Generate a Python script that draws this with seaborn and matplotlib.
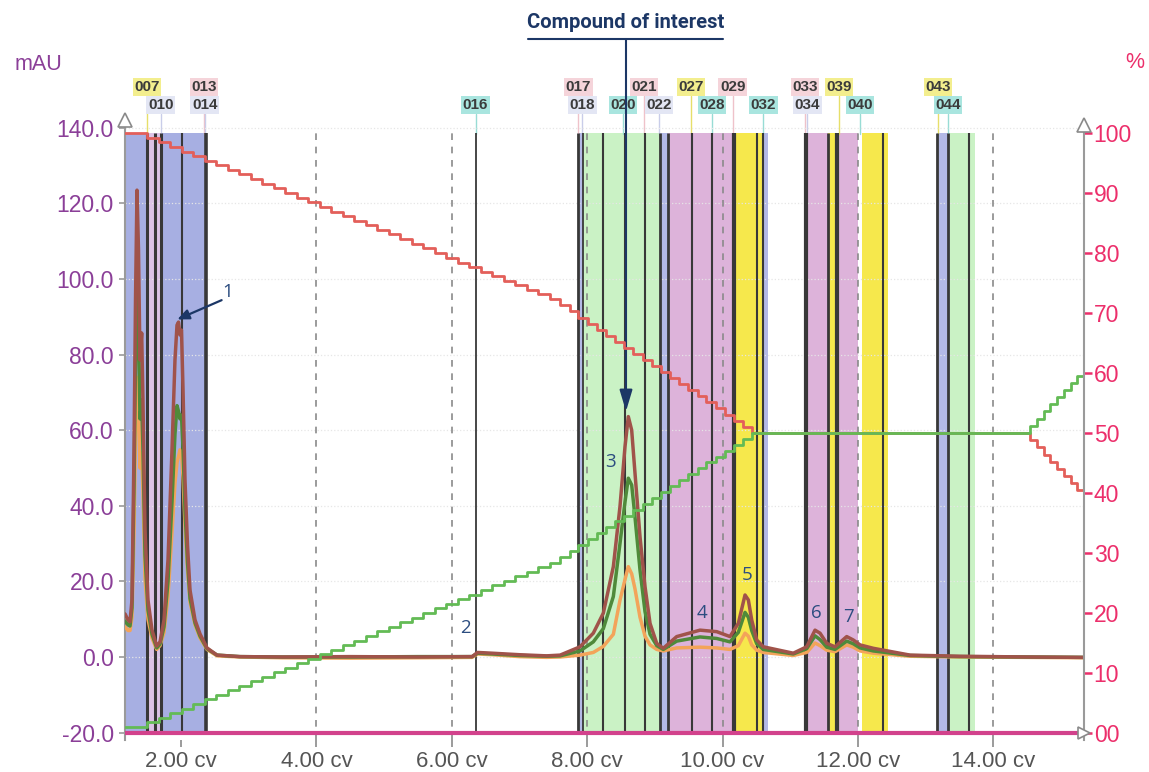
import matplotlib
matplotlib.use("Agg")
import matplotlib.pyplot as plt
from matplotlib.lines import Line2D
import seaborn as sns

# ------------------------------------------------------------
# data (x in column volumes)
# ------------------------------------------------------------
trace_cv = [1.173, 1.217, 1.247, 1.276, 1.306, 1.328, 1.350, 1.372, 1.394, 1.419,
            1.438, 1.468, 1.512, 1.572, 1.641, 1.690, 1.749, 1.808, 1.867, 1.911,
            1.941, 1.963, 1.985, 2.007, 2.030, 2.059, 2.096, 2.133, 2.207, 2.281,
            2.384, 2.532, 2.871, 3.50, 4.50, 5.50, 6.30, 6.38, 6.60, 7.00,
            7.40, 7.60, 7.894, 8.090, 8.238, 8.386, 8.484, 8.558, 8.607, 8.657,
            8.706, 8.780, 8.854, 8.928, 9.027, 9.124, 9.322, 9.666, 9.913, 10.109,
            10.232, 10.331, 10.380, 10.430, 10.504, 10.601, 11.044, 11.242, 11.365, 11.439,
            11.538, 11.660, 11.833, 11.930, 12.030, 12.226, 12.768, 13.50, 14.50, 15.33]
uv_brown = [11.4, 9.8, 9.3, 15.1, 54.8, 94.4, 123.5, 107.7, 78.6, 85.7,
            68.0, 33.6, 15.1, 7.1, 2.9, 4.0, 9.8, 25.7, 54.8, 78.6,
            87.8, 88.6, 85.2, 86.5, 70.6, 46.8, 29.6, 17.7, 9.8, 6.1,
            2.4, 0.5, 0.1, 0.0, 0.1, 0.0, 0.1, 1.2, 1.0, 0.6,
            0.3, 0.5, 2.7, 6.3, 11.6, 23.9, 39.8, 55.6, 63.6, 60.0,
            48.6, 31.8, 18.6, 8.9, 3.6, 2.3, 5.4, 7.1, 6.7, 5.4,
            8.9, 16.4, 15.1, 9.8, 4.5, 2.7, 1.0, 2.7, 7.1, 6.3,
            3.6, 2.7, 5.4, 4.5, 3.2, 2.3, 0.5, 0.2, 0.0, -0.1]
uv_green = [9.5, 8.5, 8.2, 13.0, 45.0, 78.0, 97.0, 88.0, 63.0, 68.0,
            55.0, 27.0, 12.5, 6.0, 2.4, 3.4, 8.0, 20.0, 41.0, 59.0,
            66.5, 65.0, 63.0, 64.0, 55.0, 39.0, 25.0, 15.5, 9.0, 5.5,
            2.2, 0.5, 0.1, 0.0, 0.0, 0.1, 0.1, 1.0, 0.8, 0.4,
            0.2, 0.3, 1.6, 4.0, 7.5, 16.0, 30.0, 41.0, 47.3, 45.5,
            37.0, 23.0, 12.0, 6.0, 3.0, 2.0, 4.2, 5.3, 4.9, 4.0,
            6.5, 11.8, 10.5, 7.0, 3.5, 2.0, 0.8, 2.2, 5.6, 4.6,
            2.6, 2.0, 4.2, 3.5, 2.4, 1.6, 0.4, 0.1, 0.0, -0.1]
uv_orange = [8.0, 7.0, 7.0, 10.5, 33.0, 58.0, 74.0, 68.0, 50.0, 54.0,
             44.0, 21.0, 10.0, 5.0, 2.0, 3.0, 6.5, 16.0, 33.0, 46.0,
             51.5, 53.0, 54.8, 54.0, 47.5, 35.0, 23.0, 14.5, 8.5, 5.0,
             2.0, 0.3, 0.0, -0.2, -0.3, -0.2, -0.1, 0.8, 0.6, 0.1,
             -0.1, 0.0, 0.5, 1.2, 2.8, 6.0, 15.0, 20.5, 23.9, 22.0,
             18.0, 10.5, 5.5, 3.2, 2.0, 1.6, 2.4, 2.6, 2.4, 2.0,
             3.0, 6.3, 5.5, 3.2, 1.8, 1.2, 0.4, 1.2, 3.7, 3.0,
             1.8, 1.4, 3.2, 2.6, 1.6, 1.0, 0.2, 0.0, -0.1, -0.2]

# gradient program as drawn by the instrument (staircase), right axis in %
step_cv = [1.173,
           1.50, 1.67, 1.84, 2.01, 2.18, 2.35, 2.52, 2.69, 2.86, 3.03, 3.20, 3.37,
           3.54, 3.71, 3.88, 4.05, 4.22, 4.39, 4.56, 4.73, 4.90, 5.07, 5.24, 5.41,
           5.58, 5.75, 5.92, 6.09, 6.26, 6.43, 6.60, 6.77, 6.94, 7.11, 7.28, 7.45,
           7.60, 7.74, 7.87, 8.01, 8.14, 8.28, 8.41, 8.55, 8.68, 8.82, 8.95,
           9.09, 9.22, 9.36, 9.49, 9.63, 9.76, 9.90, 10.03, 10.17, 10.30, 10.44,
           14.54, 14.64, 14.74, 14.84, 14.94, 15.04, 15.14, 15.24, 15.338]
solvent_a = [100.0,
             99.2, 98.5, 97.7, 96.9, 96.2, 95.4, 94.6, 93.8, 93.1, 92.3, 91.5, 90.8,
             90.0, 89.2, 88.5, 87.7, 86.9, 86.1, 85.4, 84.6, 83.8, 83.1, 82.3, 81.5,
             80.8, 80.0, 79.2, 78.4, 77.7, 76.9, 76.1, 75.4, 74.6, 73.8, 73.1, 72.3,
             71.3, 70.3, 69.2, 68.2, 67.2, 66.2, 65.2, 64.2, 63.2, 62.2, 61.1,
             60.1, 59.1, 58.1, 57.1, 56.1, 55.1, 54.1, 53.0, 52.0, 51.0, 50.0,
             48.8, 47.6, 46.4, 45.2, 44.0, 42.8, 41.6, 40.5, 40.5]
solvent_b = [1.0,
             1.8, 2.5, 3.3, 4.0, 4.8, 5.6, 6.3, 7.1, 7.8, 8.6, 9.4, 10.1,
             10.9, 11.6, 12.4, 13.2, 13.9, 14.7, 15.4, 16.2, 17.0, 17.7, 18.5, 19.2,
             20.0, 20.8, 21.5, 22.3, 23.0, 23.8, 24.6, 25.3, 26.1, 26.8, 27.6, 28.4,
             29.4, 30.4, 31.3, 32.3, 33.3, 34.3, 35.3, 36.2, 37.2, 38.2, 39.2,
             40.2, 41.1, 42.1, 43.1, 44.1, 45.1, 46.0, 47.0, 48.0, 49.0, 50.0,
             51.2, 52.4, 53.6, 54.8, 56.0, 57.2, 58.4, 59.5, 59.5]
baseline_cv = [1.173, 15.338]
baseline_pct = [0.0, 0.0]

# collected fractions
band_start = [1.173, 1.493, 1.705, 7.860, 7.938, 9.075, 9.194, 10.168, 10.592,
              11.225, 11.564, 11.719, 12.059, 13.162, 13.322]
band_end = [1.493, 1.705, 2.369, 7.938, 9.075, 9.194, 10.168, 10.592, 10.671,
            11.564, 11.690, 12.000, 12.443, 13.322, 13.728]
band_kind = ["blue", "rose", "blue", "lav", "green", "lav", "pink", "yellow", "lav",
             "pink", "yellow", "pink", "yellow", "lav", "green"]
cut_cv = [1.493, 1.616, 1.705, 2.010, 2.369, 6.350, 7.860, 7.938, 8.229, 8.558,
          8.854, 9.075, 9.194, 9.544, 9.839, 10.168, 10.504, 10.592, 11.225, 11.564,
          11.690, 12.369, 13.162, 13.322, 13.644]
cut_w = [2.2, 2.2, 2.2, 1.5, 2.6, 1.3, 2.0, 1.3, 1.5, 1.5,
         1.5, 2.0, 2.0, 1.5, 1.5, 3.0, 1.5, 1.5, 3.0, 2.0,
         3.0, 1.5, 2.0, 2.0, 1.5]

frac_names = ["007", "010", "013", "014", "016", "017", "018", "020", "021", "022",
              "027", "028", "029", "032", "033", "034", "039", "040", "043", "044"]
frac_cv = [1.50, 1.70, 2.34, 2.35, 6.35, 7.87, 7.93, 8.53, 8.84, 9.06,
           9.53, 9.84, 10.15, 10.60, 11.22, 11.25, 11.72, 12.03, 13.18, 13.33]
frac_row = [1, 2, 1, 2, 2, 1, 2, 2, 1, 2, 1, 2, 1, 2, 1, 2, 1, 2, 1, 2]
frac_kind = ["yellow", "lav", "pink", "lav", "cyan", "pink", "lav", "cyan", "pink", "lav",
             "yellow", "cyan", "pink", "cyan", "pink", "lav", "yellow", "cyan", "yellow", "cyan"]

peak_names = ["1", "2", "3", "4", "5", "6", "7"]
peak_cv = [2.69, 6.195, 8.337, 9.691, 10.356, 11.39, 11.857]
peak_mau = [96.6, 7.7, 51.7, 11.6, 21.7, 11.6, 10.7]

xticks = [2, 4, 6, 8, 10, 12, 14]
left_ticks = [-20, 0, 20, 40, 60, 80, 100, 120, 140]
right_ticks = [0, 10, 20, 30, 40, 50, 60, 70, 80, 90, 100]

# ------------------------------------------------------------
BAND_COL = {"blue": "#a7afe2", "rose": "#dcc3e6", "lav": "#b3b9e6", "green": "#caf2c5",
            "pink": "#ddb3da", "yellow": "#f6e84c"}
TAG_COL = {"yellow": "#f3ee8e", "lav": "#e3e6f4", "pink": "#f5d4da", "cyan": "#a9e5df"}
TAG_LINE = {"yellow": "#e6df6a", "lav": "#c9cde9", "pink": "#efc2ca", "cyan": "#98dcd5"}
PURPLE = "#8b3f98"
PINK = "#ec2f6b"
NAVY = "#1c3766"
GRAY = "#9a9a9a"

sns.set_style("white")
plt.rcParams["font.family"] = ["Liberation Sans", "DejaVu Sans"]

fig = plt.figure(figsize=(11.49, 7.72), dpi=100)
ax = fig.add_axes([125 / 1149, 32 / 772, 959 / 1149, 620 / 772])
ax2 = ax.twinx()

XMIN, XMAX = 1.1728, 15.338
BAND_TOP = 138.5

# fractions
for x0, x1, k in zip(band_start, band_end, band_kind):
    ax.fill_between([x0, x1], -20, BAND_TOP, color=BAND_COL[k], lw=0, zorder=0.5)
ax.vlines(cut_cv, -20, BAND_TOP, colors="#383838", linewidths=cut_w, zorder=1.2)

# grid
for v in left_ticks[1:]:
    ax.axhline(v, color="#e6e6e6", lw=0.9, ls=":", zorder=0.8)
for v in xticks[1:]:
    ax.axvline(v, color="#8a8a8a", lw=1.2, ls=(0, (4, 4)), ymax=0.985, zorder=1.3)

# UV traces
sns.lineplot(x=trace_cv, y=uv_orange, ax=ax, color="#f3a45a", lw=2.5, sort=False, estimator=None, zorder=3)
sns.lineplot(x=trace_cv, y=uv_green, ax=ax, color="#4f8a3a", lw=2.5, sort=False, estimator=None, zorder=3.1)
sns.lineplot(x=trace_cv, y=uv_brown, ax=ax, color="#a0534a", lw=2.5, sort=False, estimator=None, zorder=3.2)

# gradient
sns.lineplot(x=baseline_cv, y=baseline_pct, ax=ax2, color="#d2428c", lw=3, sort=False, estimator=None)
sns.lineplot(x=step_cv, y=solvent_a, ax=ax2, color="#e35f5a", lw=2, sort=False, estimator=None,
             drawstyle="steps-post")
sns.lineplot(x=step_cv, y=solvent_b, ax=ax2, color="#63bb55", lw=2, sort=False, estimator=None,
             drawstyle="steps-post")

ax.set_xlim(XMIN, XMAX)
ax.set_ylim(-21.96, 142.06)
ax2.set_ylim(-1.17, 102.17)

# axes styling
for a in (ax, ax2):
    for s in ("top", "bottom"):
        a.spines[s].set_visible(False)
    a.set_xlabel("")
    a.set_ylabel("")
ax.spines["left"].set_color(GRAY)
ax.spines["left"].set_linewidth(1.5)
ax.spines["right"].set_visible(False)
ax2.spines["left"].set_visible(False)
ax2.spines["right"].set_color(GRAY)
ax2.spines["right"].set_linewidth(1.5)

ax.set_xticks(xticks)
ax.set_xticklabels([f"{v:.2f} cv" for v in xticks])
ax.tick_params(axis="x", bottom=True, length=5, width=1.2, color="#8a8a8a", pad=3,
               labelsize=16, labelcolor="#555555")
ax.set_yticks(left_ticks)
ax.set_yticklabels([f"{v:.1f}" for v in left_ticks])
ax.tick_params(axis="y", left=True, length=4, width=1.2, color=GRAY, pad=4,
               labelsize=16.5, labelcolor=PURPLE)
ax2.set_yticks(right_ticks)
ax2.set_yticklabels(["00" if v == 0 else str(v) for v in right_ticks])
ax2.tick_params(axis="y", right=True, length=6, width=1.8, color=PINK, pad=1,
                labelsize=16.5, labelcolor=PINK)

# axis end arrows
ax.plot([XMIN], [142.06], marker="^", ms=10, mfc="white", mec="#8a8a8a", mew=1.2,
        clip_on=False, zorder=6)
ax2.plot([XMAX], [101.3], marker="^", ms=10, mfc="white", mec="#8a8a8a", mew=1.2,
         clip_on=False, zorder=6)
ax2.plot([XMAX], [0], marker=">", ms=8, mfc="white", mec="#8a8a8a", mew=1.2,
         clip_on=False, zorder=6)

# fraction tags above the plot
xt = ax.get_xaxis_transform()
for name, x, row, k in zip(frac_names, frac_cv, frac_row, frac_kind):
    y = 1.0532 if row == 1 else 1.0242
    ax.plot([x, x], [0.978, y - 0.015], transform=xt, color=TAG_LINE[k], lw=1,
            clip_on=False, zorder=0.6)
    ax.text(x, y, name, transform=xt, ha="center", va="center", fontsize=11,
            fontweight="bold", color="#3b3b3b",
            bbox=dict(boxstyle="square,pad=0.1", fc=TAG_COL[k], ec="none"))

# peak numbers
for name, x, y in zip(peak_names, peak_cv, peak_mau):
    ax.text(x, y, name, ha="center", va="center", fontsize=13.5, color="#2c4d80",
            family=["Open Sans", "DejaVu Sans"], zorder=7)
ax.annotate("", xy=(1.945, 89.3), xytext=(2.60, 94.4),
            arrowprops=dict(arrowstyle="-|>,head_length=0.7,head_width=0.3", color=NAVY,
                            lw=1.6, mutation_scale=10, shrinkA=0, shrinkB=0), zorder=7)

# compound of interest callout
fig.text(626 / 1149, 1 - 22 / 772, "Compound of interest", ha="center", va="center",
         fontsize=14.5, fontweight="bold", color=NAVY,
         family=["Liberation Sans Narrow", "Roboto", "DejaVu Sans"])
fig.add_artist(Line2D([528 / 1149, 723 / 1149], [1 - 39 / 772, 1 - 39 / 772],
                      color=NAVY, lw=1.5))
ax.annotate("", xy=(8.573, 65.0), xycoords="data",
            xytext=(626 / 1149, 1 - 39 / 772), textcoords="figure fraction",
            arrowprops=dict(arrowstyle="-|>,head_length=1.0,head_width=0.3", color=NAVY,
                            lw=1.5, mutation_scale=13, shrinkA=0, shrinkB=0),
            annotation_clip=False, zorder=7)

# axis units
fig.text(15 / 1149, 1 - 64 / 772, "mAU", ha="left", va="center", fontsize=15.5, color=PURPLE)
fig.text(1135 / 1149, 1 - 62 / 772, "%", ha="center", va="center", fontsize=15.5, color=PINK)

fig.savefig("out.png", dpi=100)
